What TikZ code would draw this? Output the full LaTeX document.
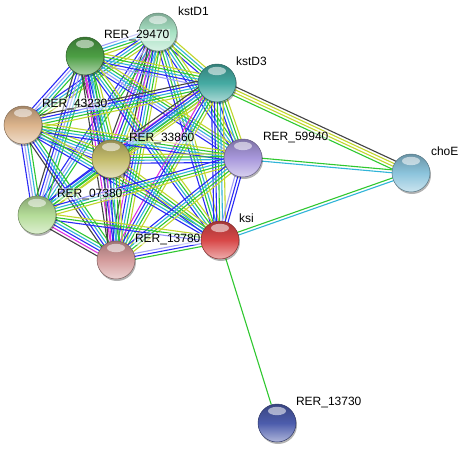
\documentclass[tikz,border=0pt]{standalone}
\usepackage{fontspec}
\setmainfont{Liberation Sans}
\usetikzlibrary{calc,shadows}
\pgfdeclarelayer{bg}
\pgfdeclarelayer{lab}
\pgfsetlayers{bg,main,lab}
\definecolor{eB}{HTML}{2A2AF5}
\definecolor{eG}{HTML}{30C830}
\definecolor{eC}{HTML}{30B4D8}
\definecolor{eY}{HTML}{C2D62C}
\definecolor{eK}{HTML}{444444}
\definecolor{eM}{HTML}{E030E0}
\definecolor{eL}{HTML}{A0A0F8}
\definecolor{cDa}{HTML}{A8E2C4}
\definecolor{cRa}{HTML}{4C9E44}
\definecolor{cDb}{HTML}{45AAA2}
\definecolor{cRb}{HTML}{DCB48C}
\definecolor{cRc}{HTML}{C4BC6C}
\definecolor{cRd}{HTML}{A898DC}
\definecolor{cCh}{HTML}{8CC4DC}
\definecolor{cRe}{HTML}{B4DC98}
\definecolor{cKs}{HTML}{D84848}
\definecolor{cRf}{HTML}{D49C9C}
\definecolor{cRg}{HTML}{4C5CAC}
\newcommand\mlink[3]{%
  \gdef\mlcount{0}%
  \foreach \c in {#3}{\xdef\mlcount{\the\numexpr\mlcount+1\relax}}%
  \foreach \c [count=\i] in {#3}{%
    \pgfmathsetmacro\off{(\i-(\mlcount+1)/2)*2.9}%
    \draw[link, \c] ($(#1)!\off pt!90:(#2)$) -- ($(#2)!\off pt!-90:(#1)$);
  }%
}
\tikzset{
  link/.style={line width=1.1pt},
  ball/.style={circle, minimum size=38pt, inner sep=0pt, draw=#1!60!black, line width=0.5pt,
    top color=#1!75!black, bottom color=#1!45!white, middle color=#1,
    drop shadow={shadow xshift=1pt, shadow yshift=-2pt, opacity=0.3, fill=black},
    path picture={\fill[white, opacity=0.55] ([yshift=12pt]path picture bounding box.center) ellipse (9pt and 4.2pt);}},
  lab/.style={anchor=base west, font=\fontsize{12}{14}\selectfont, inner sep=0.8pt,
    fill=white, fill opacity=0.5, text opacity=1}
}
\begin{document}
\begin{tikzpicture}[x=1pt,y=-1pt]
\useasboundingbox (0,0) rectangle (466,450);
% nodes
\node[ball=cDa] (D1) at (158,32) {};
\node[ball=cRa] (R29) at (85,56) {};
\node[ball=cDb] (D3) at (217,83) {};
\node[ball=cRb] (R43) at (23,125) {};
\node[ball=cRc] (R33) at (111,159) {};
\node[ball=cRd] (R59) at (243,158) {};
\node[ball=cCh] (CH) at (411,173) {};
\node[ball=cRe] (R07) at (37,215) {};
\node[ball=cKs] (KS) at (220,240) {};
\node[ball=cRf] (R13) at (116,260) {};
\node[ball=cRg] (R37) at (277,423) {};
% labels
\begin{pgfonlayer}{lab}
\node[lab] (lD1) at ($(D1)+(19,-17)$) {kstD1};
\node[lab] (lR29) at ($(R29)+(18,-18)$) {RER\_29470};
\node[lab] (lD3) at ($(D3)+(18,-18)$) {kstD3};
\node[lab] (lR43) at ($(R43)+(18,-18)$) {RER\_43230};
\node[lab] (lR33) at ($(R33)+(17,-18)$) {RER\_33860};
\node[lab] (lR59) at ($(R59)+(19,-18)$) {RER\_59940};
\node[lab] (lCH) at ($(CH)+(19,-18)$) {choE};
\node[lab] (lR07) at ($(R07)+(19,-18)$) {RER\_07380};
\node[lab] (lKS) at ($(KS)+(18,-18)$) {ksi};
\node[lab] (lR13) at ($(R13)+(18,-18)$) {RER\_13780};
\node[lab] (lR37) at ($(R37)+(18,-18)$) {RER\_13730};
\end{pgfonlayer}
% edges
\begin{pgfonlayer}{bg}
\fill[white] (0,0) rectangle (466,450);
\mlink{D1}{R29}{eL,eC,eG,eY}
\mlink{D1}{D3}{eB,eG,eC,eY}
\mlink{D1}{R43}{eB,eC,eG,eY}
\mlink{D1}{R33}{eK,eM,eB,eG,eC,eY}
\mlink{D1}{R59}{eB,eC,eG,eY}
\mlink{D1}{R07}{eB,eL,eC,eG}
\mlink{D1}{KS}{eB,eG,eC,eY}
\mlink{D1}{R13}{eK,eM,eB,eC,eG,eY}
\mlink{R29}{D3}{eL,eB,eC,eG,eY}
\mlink{R29}{R43}{eB,eL,eC,eG}
\mlink{R29}{R33}{eK,eM,eB,eC,eG,eY}
\mlink{R29}{R59}{eB,eL,eC,eG,eY}
\mlink{R29}{R07}{eK,eB,eL,eC,eG}
\mlink{R29}{KS}{eB,eC,eG,eY}
\mlink{R29}{R13}{eK,eM,eB,eC,eG}
\mlink{D3}{R43}{eK,eB,eC,eG,eY}
\mlink{D3}{R33}{eK,eM,eB,eC,eG,eY}
\mlink{D3}{R59}{eB,eC,eG,eY}
\mlink{D3}{R07}{eB,eC,eG,eY}
\mlink{D3}{KS}{eB,eB,eG,eC,eY}
\mlink{D3}{R13}{eM,eB,eC,eG,eY}
\mlink{R43}{R33}{eB,eL,eC,eG,eY}
\mlink{R43}{R59}{eB,eC,eG,eY}
\mlink{R43}{R07}{eB,eL,eC,eG}
\mlink{R43}{KS}{eB,eC,eG,eY}
\mlink{R43}{R13}{eK,eB,eC,eG}
\mlink{R33}{R59}{eB,eC,eG,eY}
\mlink{R33}{R07}{eB,eC,eG,eY}
\mlink{R33}{KS}{eB,eC,eG,eY}
\mlink{R33}{R13}{eK,eM,eB,eC,eG,eY}
\mlink{R59}{R07}{eB,eC,eG,eY}
\mlink{R59}{KS}{eL,eB,eB}
\mlink{R59}{R13}{eB,eC,eG,eY}
\mlink{R07}{KS}{eB,eG,eY}
\mlink{R07}{R13}{eK,eM,eB,eC,eG}
\mlink{KS}{R13}{eL,eB,eG}
\mlink{D3}{CH}{eG,eY,eY,eK}
\mlink{R59}{CH}{eC,eG}
\mlink{KS}{CH}{eC,eG}
\draw[link, eG] (KS) -- (R37);
\end{pgfonlayer}
\end{tikzpicture}
\end{document}
